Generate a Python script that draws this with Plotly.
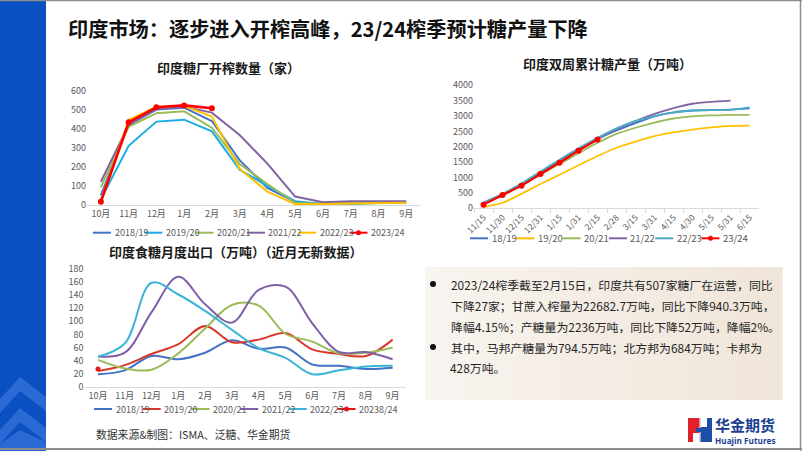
import plotly.graph_objects as go

W, H = 802, 451
def fx(x): return x / W
def fy(y): return 1 - y / H

# ---------------- data ----------------
months = ["10月", "11月", "12月", "1月", "2月", "3月", "4月", "5月", "6月", "7月", "8月", "9月"]

mills_names = ["2018/19", "2019/20", "2020/21", "2021/22", "2022/23", "2023/24"]
mills_1819 = [50, 420, 500, 510, 440, 235, 90, 15, 5, 10, 15, 15]
mills_1920 = [30, 310, 437, 447, 386, 185, 100, 20, 5, 5, 10, 10]
mills_2021 = [92, 410, 481, 491, 405, 215, 110, 10, 5, 10, 15, 15]
mills_2122 = [122, 420, 505, 515, 484, 367, 217, 44, 15, 20, 20, 20]
mills_2223 = [20, 445, 515, 520, 463, 190, 70, 5, 5, 8, 12, 12]
mills_2324 = [17, 433, 512, 522, 507]
mills_colors = ["#4472C4", "#1AADE6", "#9BBB59", "#8064A2", "#FFC000", "#FF0000"]

fortnights = ["11/15", "11/30", "12/15", "12/31", "1/15", "1/31", "2/15", "2/28",
              "3/15", "3/31", "4/15", "4/30", "5/15", "5/31", "6/15"]
prod_names = ["18/19", "19/20", "20/21", "21/22", "22/23", "23/24"]
prod_1819 = [150, 450, 790, 1170, 1540, 1910, 2250, 2530, 2770, 2990, 3120, 3180, 3200, 3210, 3250]
prod_1920 = [40, 180, 470, 790, 1090, 1400, 1700, 1970, 2170, 2350, 2470, 2560, 2630, 2680, 2690]
prod_2021 = [140, 420, 740, 1100, 1440, 1790, 2130, 2420, 2620, 2790, 2920, 2990, 3020, 3040, 3040]
prod_2122 = [190, 460, 800, 1180, 1560, 1930, 2260, 2570, 2840, 3070, 3260, 3400, 3460, 3500]
prod_2223 = [170, 460, 810, 1200, 1580, 1950, 2290, 2600, 2840, 3000, 3110, 3180, 3190, 3200, 3280]
prod_2324 = [119, 434, 737, 1117, 1485, 1875, 2236]
prod_colors = ["#4472C4", "#FFC000", "#9BBB59", "#8064A2", "#4BACC6", "#FF0000"]

exp_names = ["2018/19", "2019/20", "2020/21", "2021/22", "2022/23", "20238/24"]
exp_1819 = [19, 25, 47, 42, 52, 71, 58, 60, 34, 32, 27, 29]
exp_1920 = [24, 33, 50, 65, 93, 68, 72, 82, 57, 50, 47, 72]
exp_2021 = [41, 28, 26, 51, 89, 125, 124, 81, 69, 51, 52, 60]
exp_2122 = [46, 52, 114, 168, 126, 98, 148, 153, 97, 53, 53, 42]
exp_2223 = [46, 66, 159, 141, 116, 87, 59, 44, 19, 25, 31, 32]
exp_2324 = [27]
exp_colors = ["#4472C4", "#D9372B", "#9BBB59", "#7F5FA8", "#3CB4D6", "#E8141B"]

FONT = "Noto Sans CJK SC, sans-serif"
TICK = dict(family=FONT, size=9, color="#595959")

fig = go.Figure()

# chart 1
for name, vals, col in zip(mills_names,
                           [mills_1819, mills_1920, mills_2021, mills_2122, mills_2223, mills_2324],
                           mills_colors):
    red = name == "2023/24"
    fig.add_trace(go.Scatter(x=months[:len(vals)], y=vals, name=name, mode="lines+markers" if red else "lines",
                             line=dict(color=col, width=2.6 if red else 2),
                             marker=dict(size=6, color=col), xaxis="x", yaxis="y", showlegend=False))

# chart 2
for name, vals, col in zip(prod_names,
                           [prod_1819, prod_1920, prod_2021, prod_2122, prod_2223, prod_2324],
                           prod_colors):
    red = name == "23/24"
    fig.add_trace(go.Scatter(x=fortnights[:len(vals)], y=vals, name=name, mode="lines+markers" if red else "lines",
                             line=dict(color=col, width=2.2 if red else 1.8, shape="spline", smoothing=0.6),
                             marker=dict(size=6, color=col), xaxis="x2", yaxis="y2", showlegend=False))

# chart 3
for name, vals, col in zip(exp_names,
                           [exp_1819, exp_1920, exp_2021, exp_2122, exp_2223, exp_2324],
                           exp_colors):
    red = name == "20238/24"
    fig.add_trace(go.Scatter(x=months[:len(vals)], y=vals, name=name, mode="lines+markers" if red else "lines",
                             line=dict(color=col, width=2, shape="spline", smoothing=1.0),
                             marker=dict(size=5, color=col), xaxis="x3", yaxis="y3", showlegend=False))

axis_common = dict(showgrid=False, zeroline=False, tickfont=TICK, fixedrange=True, automargin=False)

fig.update_layout(
    template="none",
    width=W, height=H, margin=dict(l=0, r=0, t=0, b=0, pad=0, autoexpand=False),
    paper_bgcolor="white", plot_bgcolor="rgba(0,0,0,0)",
    xaxis=dict(domain=[fx(87), fx(420)], anchor="y", type="category", range=[-0.5, 11.5],
               showline=True, linecolor="#D9D9D9", linewidth=1, ticks="", **axis_common),
    yaxis=dict(domain=[fy(205), fy(90.5)], anchor="x", range=[0, 600], dtick=100,
               showline=False, ticks="", **axis_common),
    xaxis2=dict(domain=[fx(474), fx(759)], anchor="y2", type="category", range=[-0.5, 14.5],
                showline=True, linecolor="#D9D9D9", linewidth=1, ticks="outside", tickson="boundaries",
                ticklen=4, tickcolor="#D9D9D9", tickangle=-45, **{**axis_common, "tickfont": dict(family=FONT, size=8.5, color="#595959")}),
    yaxis2=dict(domain=[fy(208.3), fy(85.3)], anchor="x2", range=[0, 4000], dtick=500,
                showline=False, ticks="", **axis_common),
    xaxis3=dict(domain=[fx(84.6), fx(406)], anchor="y3", type="category", range=[-0.5, 11.5],
                showline=True, linecolor="#D9D9D9", linewidth=1, ticks="", **axis_common),
    yaxis3=dict(domain=[fy(386.7), fy(269)], anchor="x3", range=[0, 180], dtick=20,
                showline=False, ticks="", **axis_common),
    showlegend=False,
)

shapes = []
annots = []

# left blue bar with chevrons
shapes.append(dict(type="rect", xref="paper", yref="paper", x0=0, x1=fx(46), y0=fy(451), y1=fy(0),
                   fillcolor="#0A50C2", line=dict(width=0), layer="below"))
def chevron(ytop, thick):
    pts = [(0, ytop + 22), (20, ytop), (46, ytop + 20), (46, ytop + 20 + thick), (20, ytop + thick), (0, ytop + 22 + thick)]
    return "M " + " L ".join(f"{fx(a)},{fy(b)}" for a, b in pts) + " Z"
for yt in (377, 408):
    shapes.append(dict(type="path", xref="paper", yref="paper", path=chevron(yt, 14),
                       fillcolor="#2B6AD4", line=dict(width=0), layer="below"))
shapes.append(dict(type="path", xref="paper", yref="paper",
                   path=f"M 0,{fy(451)} L 0,{fy(444)} L {fx(20)},{fy(430)} L {fx(46)},{fy(442)} L {fx(46)},{fy(451)} Z",
                   fillcolor="#2B6AD4", line=dict(width=0), layer="below"))

# frame
shapes.append(dict(type="line", xref="paper", yref="paper", x0=0, x1=1, y0=fy(0.5), y1=fy(0.5),
                   line=dict(color="#8C8C8C", width=1.5)))
shapes.append(dict(type="line", xref="paper", yref="paper", x0=fx(800.5), x1=fx(800.5), y0=0, y1=1,
                   line=dict(color="#8C8C8C", width=1.5)))
shapes.append(dict(type="line", xref="paper", yref="paper", x0=0, x1=1, y0=fy(449), y1=fy(449),
                   line=dict(color="#8C8C8C", width=2)))

# text box background (horizontal gradient)
n = 24
bx0, bx1, by0, by1 = 425, 782, 267, 400
c0, c1 = (248, 244, 239), (240, 229, 217)
for i in range(n):
    t = i / (n - 1)
    col = tuple(round(c0[k] + (c1[k] - c0[k]) * t) for k in range(3))
    shapes.append(dict(type="rect", xref="paper", yref="paper",
                       x0=fx(bx0 + (bx1 - bx0) * i / n), x1=fx(bx0 + (bx1 - bx0) * (i + 1) / n + 0.6),
                       y0=fy(by1), y1=fy(by0), fillcolor=f"rgb{col}", line=dict(width=0), layer="below"))

# main title
annots.append(dict(text="<b>印度市场：逐步进入开榨高峰，23/24榨季预计糖产量下降</b>", x=fx(66), y=fy(28),
                   xref="paper", yref="paper", xanchor="left", yanchor="middle", showarrow=False,
                   font=dict(family=FONT, size=20.2, color="#111111")))
# chart titles
for txt, cx, cy in [("印度糖厂开榨数量（家）", 229, 67), ("印度双周累计糖产量（万吨）", 607, 64),
                    ("印度食糖月度出口（万吨）（近月无新数据）", 236, 251)]:
    annots.append(dict(text=f"<b>{txt}</b>", x=fx(cx), y=fy(cy), xref="paper", yref="paper",
                       xanchor="center", yanchor="middle", showarrow=False,
                       font=dict(family=FONT, size=13, color="#1A1A1A")))

# manual legends
def legend(names, colors, x0, step, y, fsize, marker_last):
    for i, (nm, col) in enumerate(zip(names, colors)):
        lx = x0 + i * step
        shapes.append(dict(type="line", xref="paper", yref="paper", x0=fx(lx), x1=fx(lx + 18),
                           y0=fy(y), y1=fy(y), line=dict(color=col, width=2)))
        if marker_last and i == len(names) - 1:
            shapes.append(dict(type="circle", xref="paper", yref="paper", x0=fx(lx + 6.5), x1=fx(lx + 11.5),
                               y0=fy(y + 2.5), y1=fy(y - 2.5), fillcolor=col, line=dict(width=0)))
        annots.append(dict(text=nm, x=fx(lx + 19.5), y=fy(y), xref="paper", yref="paper",
                           xanchor="left", yanchor="middle", showarrow=False,
                           font=dict(family=FONT, size=fsize, color="#595959")))

legend(mills_names, mills_colors, 93, 51.3, 232.7, 9, True)
legend(prod_names, prod_colors, 470, 46.3, 238.3, 9.5, True)
legend(exp_names, exp_colors, 94, 48.7, 409, 9, True)

# source
annots.append(dict(text="数据来源&制图：ISMA、泛糖、华金期货", x=fx(94), y=fy(434), xref="paper", yref="paper",
                   xanchor="left", yanchor="middle", showarrow=False,
                   font=dict(family=FONT, size=10.8, color="#333333")))

# text box content
lines = [
    ("2023/24榨季截至2月15日，印度共有507家糖厂在运营，同比", 284, True),
    ("下降27家；甘蔗入榨量为22682.7万吨，同比下降940.3万吨，", 305.5, False),
    ("降幅4.15%；产糖量为2236万吨，同比下降52万吨，降幅2%。", 326, False),
    ("其中，马邦产糖量为794.5万吨；北方邦为684万吨；卡邦为", 347, True),
    ("428万吨。", 367.5, False),
]
for txt, ly, bullet in lines:
    annots.append(dict(text=txt, x=fx(448.5), y=fy(ly), xref="paper", yref="paper",
                       xanchor="left", yanchor="middle", showarrow=False,
                       font=dict(family=FONT, size=11.9, color="#262626")))
    if bullet:
        shapes.append(dict(type="circle", xref="paper", yref="paper", x0=fx(430), x1=fx(436),
                           y0=fy(ly + 3), y1=fy(ly - 3), fillcolor="#111111", line=dict(width=0)))

# logo
shapes.append(dict(type="rect", xref="paper", yref="paper", x0=fx(688), x1=fx(699.5), y0=fy(442), y1=fy(418),
                   fillcolor="#E0202A", line=dict(width=0)))
shapes.append(dict(type="rect", xref="paper", yref="paper", x0=fx(700.5), x1=fx(712), y0=fy(442), y1=fy(418),
                   fillcolor="#1E4FA8", line=dict(width=0)))
shapes.append(dict(type="rect", xref="paper", yref="paper", x0=fx(693), x1=fx(699.5), y0=fy(442), y1=fy(433),
                   fillcolor="white", line=dict(width=0)))
shapes.append(dict(type="rect", xref="paper", yref="paper", x0=fx(700.5), x1=fx(707), y0=fy(427), y1=fy(418),
                   fillcolor="white", line=dict(width=0)))
shapes.append(dict(type="rect", xref="paper", yref="paper", x0=fx(696), x1=fx(704), y0=fy(432), y1=fy(428),
                   fillcolor="#1E4FA8", line=dict(width=0)))
annots.append(dict(text="<b>华金期货</b>", x=fx(713), y=fy(424.5), xref="paper", yref="paper",
                   xanchor="left", yanchor="middle", showarrow=False,
                   font=dict(family=FONT, size=15, color="#1B3F8F")))
annots.append(dict(text="<b>Huajin Futures</b>", x=fx(713), y=fy(440.5), xref="paper", yref="paper",
                   xanchor="left", yanchor="middle", showarrow=False,
                   font=dict(family="Open Sans, sans-serif", size=8.2, color="#1B3F8F")))

fig.update_layout(shapes=shapes, annotations=annots)
fig.write_html("out.html", config={"displayModeBar": False, "staticPlot": True},
               post_script="document.body.style.margin='0px';document.body.style.overflow='hidden';")
